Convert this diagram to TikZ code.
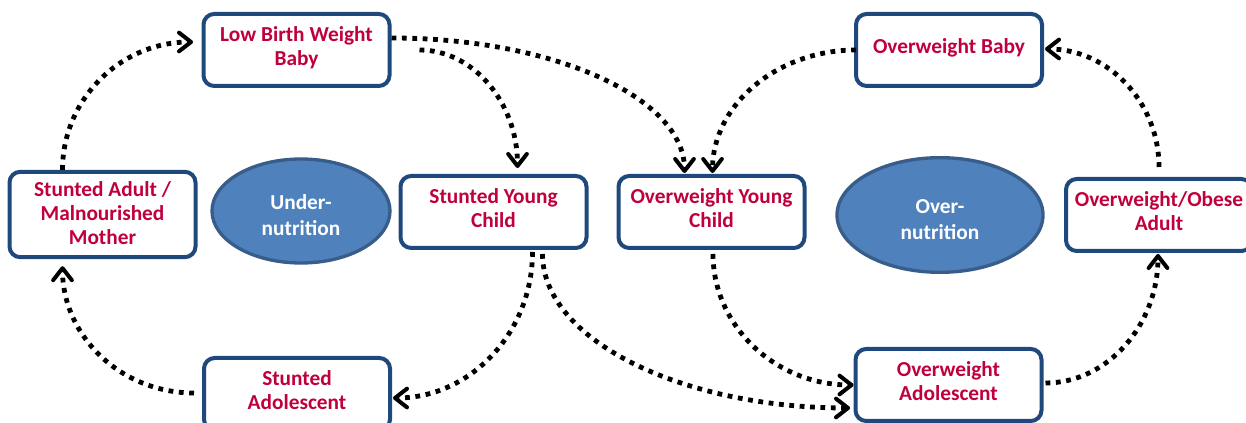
\documentclass[tikz,border=0pt]{standalone}
\usepackage{fontspec}
\setmainfont{Carlito}
\usetikzlibrary{arrows.meta,calc,shapes.geometric}
\definecolor{boxblue}{RGB}{31,73,125}
\definecolor{stagered}{RGB}{192,0,60}
\definecolor{nutrifill}{RGB}{79,129,189}
\definecolor{nutriline}{RGB}{56,93,138}
\tikzset{
  stage/.style={draw=boxblue,line width=3pt,rounded corners=8pt,fill=white,outer sep=0pt,
    text=stagered,align=center,minimum width=139.5pt,minimum height=54pt,text depth=6pt,
    font=\bfseries\fontsize{16}{18}\selectfont},
  nutri/.style={ellipse,draw=nutriline,line width=2.5pt,fill=nutrifill,outer sep=0pt,
    text=white,align=center,text height=37pt,font=\bfseries\fontsize{16}{19.5}\selectfont},
  cycle/.style={line width=3.6pt,dash pattern=on 3.6pt off 4.2pt,
    -{Straight Barb[length=9pt,width=14pt,line width=3pt,line cap=round,line join=round]}}
}
\begin{document}
\begin{tikzpicture}[x=0.75pt,y=-0.75pt]
\useasboundingbox (0,0) rectangle (1246,423);
% under-nutrition loop
\node[stage] (lbw) at (296.5,50) {Low Birth Weight\\Baby};
\node[stage,minimum height=64pt,text depth=1.5pt] (adult) at (102.5,214.5) {Stunted Adult /\\Malnourished\\Mother};
\node[nutri,minimum width=133.5pt,minimum height=78pt] (under) at (301,211) {Under-\\nutrition};
\node[stage] (syc) at (493.5,212) {Stunted Young\\Child};
\node[stage] (sad) at (297,394) {Stunted\\Adolescent};
% over-nutrition loop
\node[stage] (owb) at (949,50) {Overweight Baby};
\node[stage] (oyc) at (711.5,212) {Overweight Young\\Child};
\node[nutri,minimum width=154.5pt,minimum height=86pt] (over) at (940,215) {Over-\\nutrition};
\node[stage] (owa) at (1159,215) {Overweight/Obese\\Adult};
\node[stage] (oad) at (948.5,385) {Overweight\\Adolescent};
% connectors
\draw[cycle] ($(adult.north west)+(53,-2)$) .. controls +(0,-71) and +(-72,0) .. ($(lbw.west)+(-10.5,-8)$);
\draw[cycle] ($(lbw.east)+(2,-12)$) .. controls +(162,0) and +(0,-75) .. ($(oyc.north)+(-27,-3)$);
\draw[cycle] ($(lbw.east)+(30,0)$) .. controls +(54,0) and +(0,-65) .. ($(syc.north)+(24,-8)$);
\draw[cycle] (owb.west) .. controls +(-79,0) and +(0,-68) .. ($(oyc.north)+(1,-3)$);
\draw[cycle] ($(owa.north)+(0,-12)$) .. controls +(0,-65) and +(63,0) .. ($(owb.east)+(3,-1)$);
\draw[cycle] ($(oad.east)+(4,-2)$) .. controls +(62,0) and +(0,71) .. ($(owa.south)+(-1,3)$);
\draw[cycle] ($(oyc.south)+(1.5,6)$) .. controls +(0,72) and +(-78,0) .. ($(oad.west)+(-2,0)$);
\draw[cycle] ($(syc.south)+(49,6)$) .. controls +(0,85) and +(-170,0) .. ($(oad.south west)+(-5.5,-13)$);
\draw[cycle] ($(syc.south)+(39,4)$) .. controls +(0,81) and +(77,0) .. ($(sad.east)+(3,4)$);
\draw[cycle] ($(sad.west)+(-10,-1)$) .. controls +(-73,0) and +(0,70) .. ($(adult.south west)+(53,9)$);
\end{tikzpicture}
\end{document}
